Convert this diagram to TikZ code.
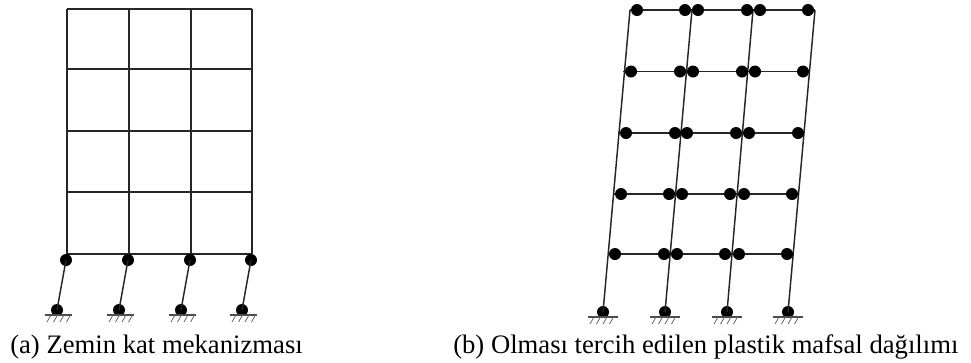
\documentclass[tikz,border=0pt]{standalone}
\usepackage{fontspec}
\setmainfont{Liberation Serif}
\tikzset{
  hinge/.style={circle,fill=black,draw=none,inner sep=0pt,minimum size=9pt},
  member/.style={line width=1.1pt,draw=black!85},
  ground/.style={line width=0.9pt,draw=black!70},
  hatch/.style={line width=0.6pt,draw=black!60},
  caption/.style={anchor=base west,inner sep=0pt,font=\fontsize{20pt}{24pt}\selectfont}
}
\begin{document}
\begin{tikzpicture}[x=0.75pt,y=-0.75pt]
\useasboundingbox (0,0) rectangle (971,362);
% ---- frame (a)
\foreach \c/\x in {1/67,2/129,3/191,4/252}{
  \coordinate (at\c) at (\x,9);
  \coordinate (ab\c) at (\x,254);
  \draw[member] (at\c) -- (ab\c);
}
\foreach \r/\y in {1/9,2/69,3/131,4/192,5/254}{
  \coordinate (al\r) at (67,\y);
  \coordinate (ar\r) at (252,\y);
  \draw[member] (al\r) -- (ar\r);
}
\foreach \c/\xa/\xb in {1/66/57,2/128/119,3/190/181,4/251/242}{
  \node[hinge] (au\c) at (\xa,260) {};
  \node[hinge] (ad\c) at (\xb,310) {};
  \draw[member] (au\c.center) -- (ad\c.center);
  \coordinate (agl\c) at (\xb-12,315);
  \coordinate (agr\c) at (\xb+15,315);
  \draw[ground] (agl\c) -- (agr\c);
  \foreach \k in {0,1,2,3}{
    \coordinate (ah\c\k) at (\xb-10+\k*6.5+4,315);
    \coordinate (ai\c\k) at (\xb-10+\k*6.5,322);
    \draw[hatch] (ah\c\k) -- (ai\c\k);
  }
}
% ---- frame (b)
\foreach \c/\xb/\xt in {1/603/630,2/665/692,3/727/753,4/788/815}{
  \coordinate (bt\c) at (\xt,10);
  \node[hinge] (bd\c) at (\xb,312) {};
  \draw[member] (bd\c.center) -- (bt\c);
  \coordinate (bgl\c) at (\xb-15,317);
  \coordinate (bgr\c) at (\xb+15,317);
  \draw[ground] (bgl\c) -- (bgr\c);
  \foreach \k in {0,1,2,3}{
    \coordinate (bh\c\k) at (\xb-13+\k*6.5+4,317);
    \coordinate (bi\c\k) at (\xb-13+\k*6.5,324);
    \draw[hatch] (bh\c\k) -- (bi\c\k);
  }
}
\foreach \r/\y/\xl/\xr/\a/\b/\c/\d/\e/\f in {
  1/10/630/815/637/685/698/747/760/808,
  2/71.5/623/809/631/680/693/742/755/803,
  3/133/618/803/626/675/687/736/749/798,
  4/194/613/797/621/669/682/730/744/792,
  5/254/608/792/615/664/677/725/739/787}{
  \coordinate (bl\r) at (\xl,\y);
  \coordinate (br\r) at (\xr,\y);
  \draw[member] (bl\r) -- (br\r);
  \node[hinge] (bp\r a) at (\a,\y) {};
  \node[hinge] (bp\r b) at (\b,\y) {};
  \node[hinge] (bp\r c) at (\c,\y) {};
  \node[hinge] (bp\r d) at (\d,\y) {};
  \node[hinge] (bp\r e) at (\e,\y) {};
  \node[hinge] (bp\r f) at (\f,\y) {};
}
% ---- captions
\node[caption] (capa) at (10,353) {(a) Zemin kat mekanizması};
\node[caption] (capb) at (453,353) {(b) Olması tercih edilen plastik mafsal dağılımı};
\end{tikzpicture}
\end{document}
